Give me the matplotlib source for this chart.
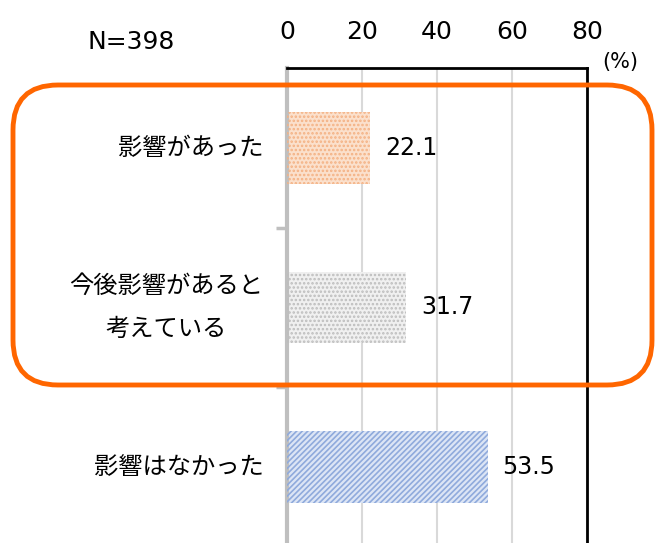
import matplotlib
matplotlib.use("Agg")
import matplotlib.pyplot as plt
from matplotlib.patches import FancyBboxPatch
from matplotlib.transforms import IdentityTransform

plt.rcParams['font.family'] = ['DejaVu Sans', 'Noto Sans CJK JP']
jp_font = ['Noto Sans CJK JP', 'DejaVu Sans']

# データ
categories = ["影響があった", "今後影響があると\n考えている", "影響はなかった"]
values = [22.1, 31.7, 53.5]
x_ticks = [0, 20, 40, 60, 80]
face_colors = ["#FBE0CC", "#F0F0F0", "#DCE5F5"]
hatch_colors = ["#F4B183", "#BDBDBD", "#8FAADC"]
hatches = ["....", "....", "//////"]

fig = plt.figure(figsize=(6.57, 5.43), dpi=100)
ax = fig.add_axes([287 / 657, -4 / 543, 300 / 657, 479 / 543])

pos = list(range(len(categories)))
ax.barh(pos, values, height=0.45, color=face_colors, linewidth=0, zorder=2)
plt.rcParams['hatch.linewidth'] = 1.2
for p, v, hc, h in zip(pos, values, hatch_colors, hatches):
    ax.barh(p, v, height=0.45, fill=False, hatch=h, edgecolor=hc, linewidth=0, zorder=3)
    ax.text(v + 4, p, f"{v:.1f}", va="center", ha="left", fontsize=17)

ax.set_xlim(0, 80)
ax.set_ylim(2.5, -0.5)
ax.xaxis.tick_top()
ax.set_xticks(x_ticks)
ax.tick_params(axis="x", length=0, pad=17, labelsize=18)
ax.set_yticks(pos)
ax.set_yticklabels(categories, fontsize=17.5, multialignment="center",
                   family=jp_font, linespacing=1.85)
for lbl in ax.get_yticklabels():
    lbl.set_va("center")
ax.tick_params(axis="y", which="major", length=0, pad=17)
ax.set_yticks([0.5, 1.5], minor=True)
ax.tick_params(axis="y", which="minor", length=8, width=2.5, color="#BFBFBF")
ax.grid(axis="x", color="#D9D9D9", linewidth=1.5, zorder=0)
ax.set_axisbelow(True)

ax.spines["left"].set_color("#BFBFBF")
ax.spines["left"].set_linewidth(3)
ax.spines["top"].set_color("black")
ax.spines["top"].set_linewidth(2)
ax.spines["right"].set_color("black")
ax.spines["right"].set_linewidth(2)
ax.spines["bottom"].set_visible(False)

fig.text(131 / 657, 1 - 42 / 543, "N=398", ha="center", va="center", fontsize=18)
fig.text(620 / 657, 1 - 62 / 543, "(%)", ha="center", va="center", fontsize=15)

# オレンジの枠
frame = FancyBboxPatch((13, 543 - 385), 639, 300,
                       boxstyle="round,pad=0,rounding_size=45",
                       fill=False, edgecolor="#FF6600", linewidth=3.5,
                       transform=IdentityTransform(), zorder=10)
fig.patches.append(frame)

fig.savefig("out.png", dpi=100)
